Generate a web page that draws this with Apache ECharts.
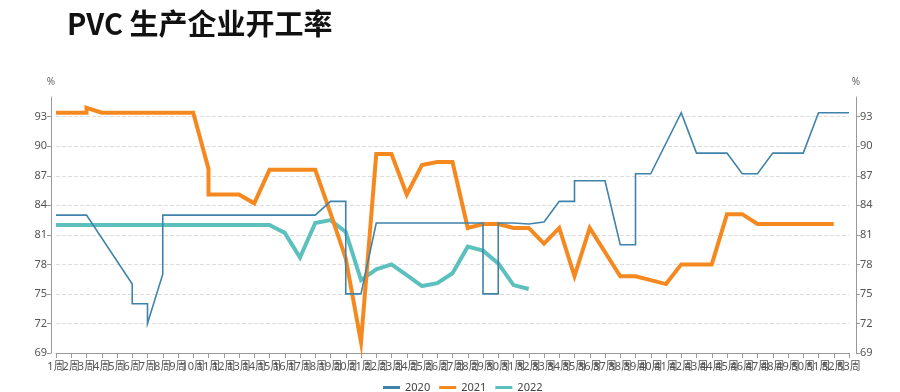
<!DOCTYPE html>
<html>
<head>
<meta charset="utf-8">
<script src="https://cdn.jsdelivr.net/npm/echarts@6/dist/echarts.min.js"></script>
<style>
html,body{margin:0;padding:0;background:#fff;}
#chart{width:900px;height:392px;}
</style>
</head>
<body>
<div id="chart"></div>
<script>
// Week categories 1周..53周
var weeks = [];
for (var i = 1; i <= 53; i++) weeks.push(i + '周');

var yTicks = [69, 72, 75, 78, 81, 84, 87, 90, 93];
var seriesNames = ['2020', '2021', '2022'];

// Values by week; null = no point, [a, b] = two readings in the same week
var v2020 = [83, 83, 83, null, null, [76, 74], [74, 72], [77, 83], 83, 83,
  83, 83, 83, 83, 83, 83, 83, 83, 84.4, [84.4, 75],
  75, 82.2, 82.2, 82.2, 82.2, 82.2, 82.2, 82.2, [82.2, 75], [75, 82.2],
  82.2, 82.1, 82.3, 84.4, [84.4, 86.5], 86.5, 86.5, 80.0, [80.0, 87.2], 87.2,
  null, 93.4, 89.3, 89.3, 89.3, 87.2, 87.2, 89.3, 89.3, 89.3,
  93.4, 93.4, 93.4];

var v2021 = [93.4, 93.4, [93.4, 93.9], 93.4, 93.4, 93.4, 93.4, 93.4, 93.4, 93.4,
  [87.7, 85.1], 85.1, 85.1, 84.2, 87.6, 87.6, 87.6, 87.6, 83.2, 78.6,
  70.1, 89.2, 89.2, 85.1, 88.1, 88.4, 88.4, 81.7, 82.1, 82.1,
  81.7, 81.7, 80.1, 81.7, 76.8, 81.7, null, 76.8, 76.8, 76.4,
  76.0, 78.0, 78.0, 78.0, 83.1, 83.1, 82.1, 82.1, 82.1, 82.1,
  82.1, 82.1];

var v2022 = [82.0, 82.0, 82.0, 82.0, 82.0, 82.0, 82.0, 82.0, 82.0, 82.0,
  82.0, 82.0, 82.0, 82.0, 82.0, 81.2, 78.7, 82.2, 82.5, 81.3,
  76.4, 77.5, 78.0, 76.9, 75.8, 76.1, 77.1, 79.8, 79.4, 78.1,
  75.9, 75.5];

function toPairs(vals) {
  var out = [];
  vals.forEach(function (v, i) {
    if (v === null || v === undefined) return;
    if (Array.isArray(v)) { v.forEach(function (x) { out.push([i, x]); }); }
    else out.push([i, v]);
  });
  return out;
}

var colors = ['#3f82aa', '#f5891f', '#5cc0bf'];
var widths = [1.6, 4, 4];
var allVals = [v2020, v2021, v2022];

var font = '"Noto Sans", "Noto Sans CJK SC", sans-serif';

function yAxis(pos, offset) {
  return {
    type: 'value', position: pos, offset: offset,
    min: 69, max: 95, interval: 3,
    name: '%', nameLocation: 'end', nameGap: 10,
    nameTextStyle: { color: '#666', fontSize: 10, fontFamily: font, align: 'center' },
    axisLine: { show: true, lineStyle: { color: '#999', width: 1 } },
    axisTick: { show: true, length: 4, lineStyle: { color: '#999' }, customValues: yTicks },
    axisLabel: { color: '#555', fontSize: 11, fontFamily: font, margin: 4, customValues: yTicks },
    splitLine: { show: true, lineStyle: { color: '#dddddd', type: 'dashed', width: 1 } }
  };
}

var chart = echarts.init(document.getElementById('chart'), null, { renderer: 'canvas' });
chart.setOption({
  animation: false,
  backgroundColor: '#fff',
  title: {
    text: 'PVC 生产企业开工率', left: 62, top: 4,
    textStyle: { fontSize: 29, fontWeight: 'bold', color: '#111', fontFamily: '"Noto Sans CJK SC", sans-serif' }
  },
  legend: {
    top: 377, left: 378, itemWidth: 17, itemHeight: 3, itemGap: 9,
    icon: 'rect',
    textStyle: { color: '#444', fontSize: 11, fontFamily: font },
    data: seriesNames
  },
  grid: { left: 56, right: 51, top: 97, bottom: 39, containLabel: false },
  xAxis: {
    type: 'category', data: weeks, boundaryGap: false,
    axisLine: { show: true, lineStyle: { color: '#999' } },
    axisTick: { show: true, length: 5, interval: 0, lineStyle: { color: '#999' } },
    axisLabel: { interval: 0, color: '#555', fontSize: 11, fontFamily: font, margin: 8 },
    splitLine: { show: false }
  },
  yAxis: [yAxis('left', 5), yAxis('right', 7)],
  series: seriesNames.map(function (n, k) {
    return {
      name: n, type: 'line', data: toPairs(allVals[k]),
      symbol: 'none', smooth: false, color: colors[k],
      lineStyle: { width: widths[k], color: colors[k], join: 'miter' },
      z: k === 0 ? 3 : (k === 1 ? 2 : 1)
    };
  })
});
</script>
</body>
</html>
